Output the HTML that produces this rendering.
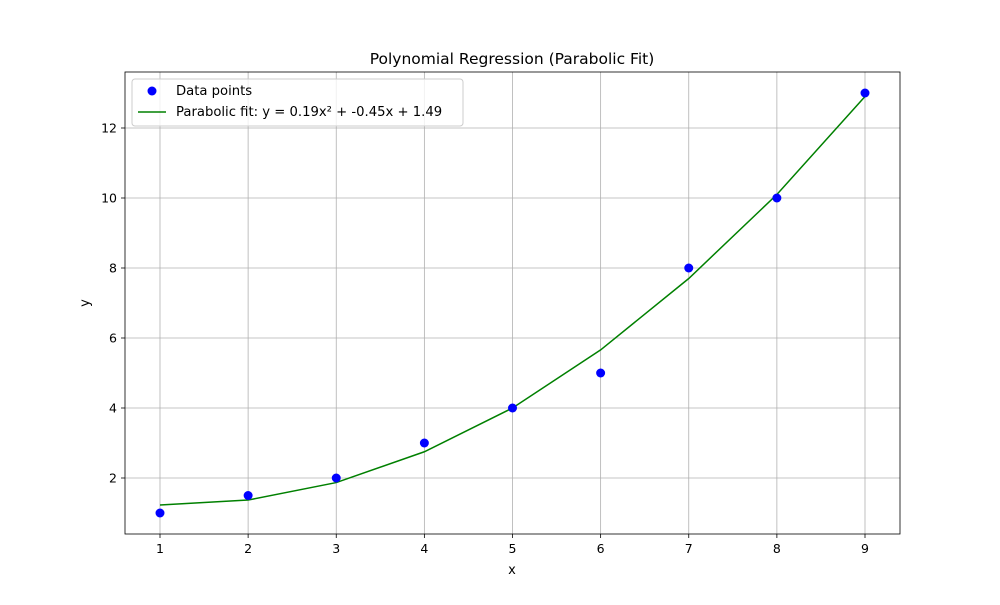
<!DOCTYPE html>
<html><head><meta charset="utf-8"><style>
body{margin:0;background:#fff;}
svg text{font-family:"DejaVu Sans","Liberation Sans",sans-serif;fill:#000;}
</style></head><body>
<svg id="chart" width="1000" height="600">
<rect width="1000" height="600" fill="#fff"/>
<text x="512" y="64" font-size="15.5" text-anchor="middle">Polynomial Regression (Parabolic Fit)</text>
<g id="grid"></g><g id="ticks"></g>
<g id="series"></g>
<rect x="125" y="72" width="775" height="462" fill="none" stroke="#000" stroke-width="0.8"/>
<text x="512" y="574" font-size="13" text-anchor="middle">x</text>
<text x="89" y="303" font-size="13" text-anchor="middle" transform="rotate(-90 89 303)">y</text>
<g>
<rect x="132" y="79" width="331" height="47" rx="3" fill="#fff" fill-opacity="0.8" stroke="#ccc"/>
<circle cx="152" cy="91" r="4.5" fill="#0000ff"/>
<text x="176" y="95" font-size="13.2">Data points</text>
<line x1="138" y1="112" x2="166" y2="112" stroke="#008000" stroke-width="1.5"/>
<text x="176" y="116" font-size="13.2">Parabolic fit: y = 0.19x² + -0.45x + 1.49</text>
</g>
</svg>
<script>
const xs=[1,2,3,4,5,6,7,8,9];
const ys=[1,1.5,2,3,4,5,8,10,13];
const fitY=[1.23,1.37,1.87,2.75,4.0,5.66,7.7,10.1,12.9];
const xTicks=[1,2,3,4,5,6,7,8,9];
const yTicks=[2,4,6,8,10,12];
const NS="http://www.w3.org/2000/svg";
const X=v=>160+(v-1)*88.125;
const Y=v=>548-v*35;
function mk(t,a,p){const e=document.createElementNS(NS,t);for(const k in a)e.setAttribute(k,a[k]);p.appendChild(e);return e;}
const g=document.getElementById('grid'),tk=document.getElementById('ticks'),s=document.getElementById('series');
xTicks.forEach(v=>{
const l=mk('line',{x1:X(v),x2:X(v),y1:72,y2:534,stroke:'#b0b0b0','stroke-width':0.8},g);


mk('line',{x1:X(v),x2:X(v),y1:534,y2:538,stroke:'#000','stroke-width':0.8},tk);
const t=mk('text',{x:X(v),y:553,'font-size':12.5,'text-anchor':'middle'},tk);t.textContent=v;


});
yTicks.forEach(v=>{
const l=mk('line',{x1:125,x2:900,y1:Y(v),y2:Y(v),stroke:'#b0b0b0','stroke-width':0.8},g);


mk('line',{x1:121,x2:125,y1:Y(v),y2:Y(v),stroke:'#000','stroke-width':0.8},tk);
const t=mk('text',{x:117,y:Y(v)+4.5,'font-size':12.5,'text-anchor':'end'},tk);t.textContent=v;


});
const pl=mk('polyline',{points:xs.map((x,i)=>X(x)+','+Y(fitY[i])).join(' '),fill:'none',stroke:'#008000','stroke-width':1.5},s);


xs.forEach((x,i)=>{
const c=mk('circle',{cx:X(x),cy:Y(ys[i]),r:4.5,fill:'#0000ff'},s);


});
</script>
</body></html>
